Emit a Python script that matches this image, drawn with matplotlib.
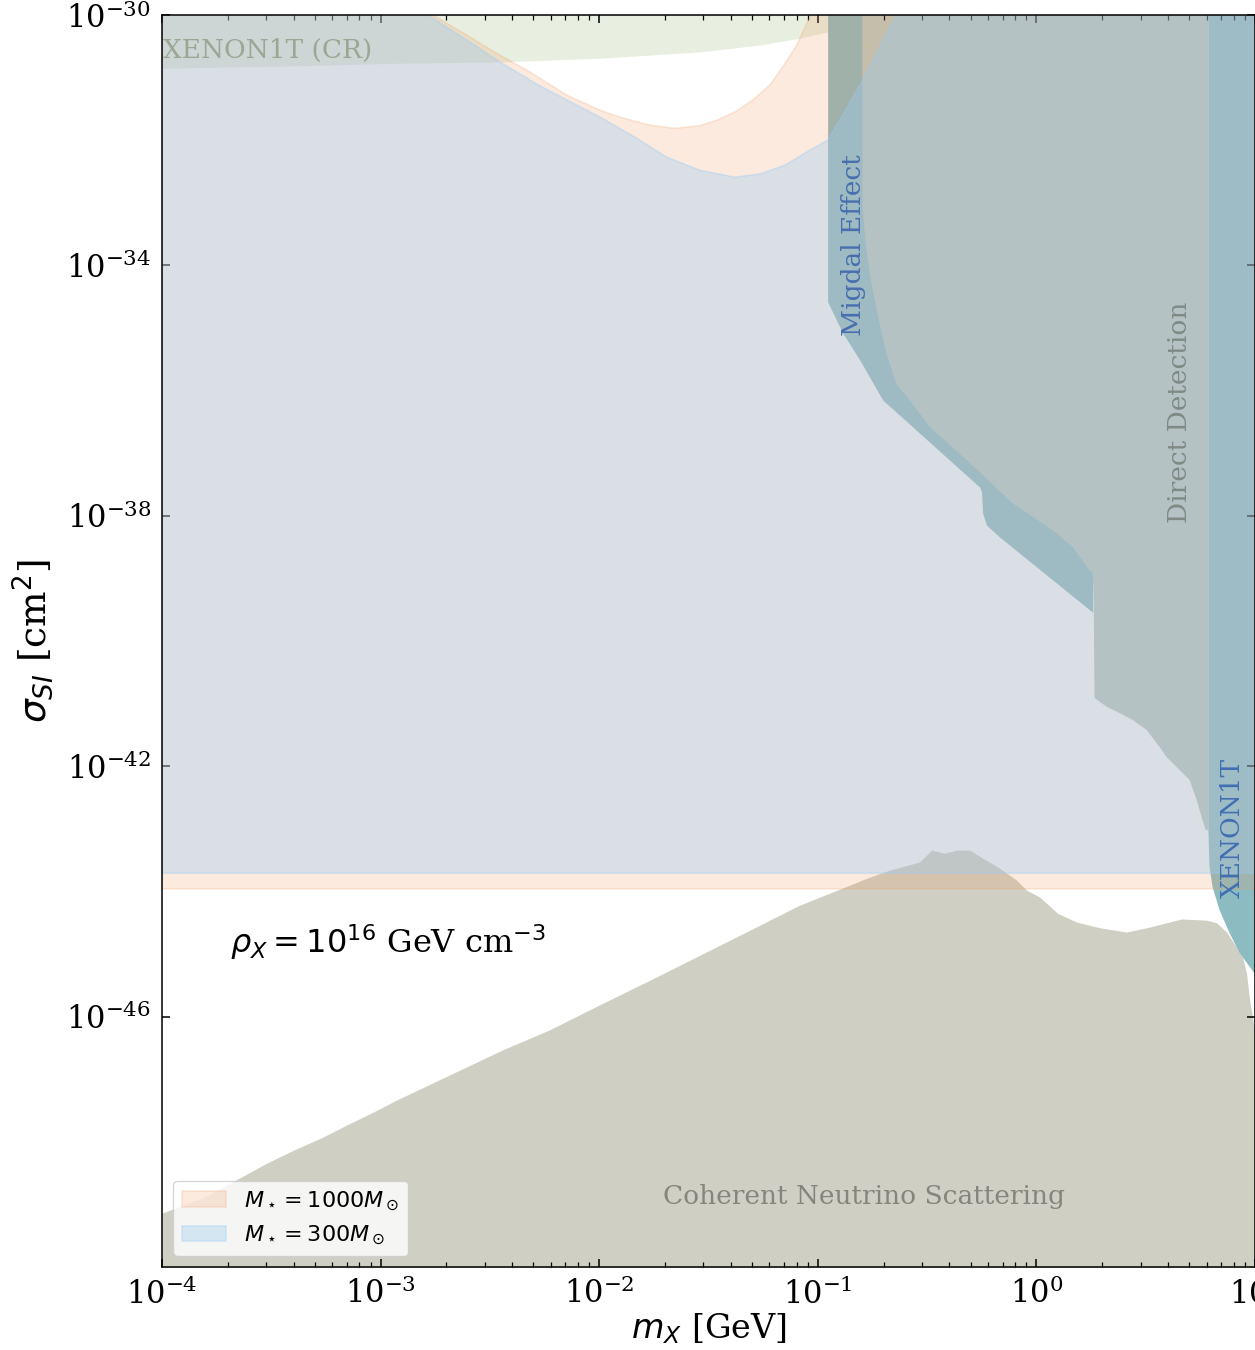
import numpy as np
import matplotlib
matplotlib.use("Agg")
import matplotlib.pyplot as plt
from matplotlib.ticker import FixedLocator, NullLocator, LogLocator

plt.rcParams["font.family"] = "DejaVu Serif"
plt.rcParams["mathtext.fontset"] = "dejavusans"

# ---------------------------------------------------------------
# Data: log10(m_X / GeV) and log10(sigma_SI / cm^2)
# ---------------------------------------------------------------
# Coherent neutrino scattering floor
nu_logm = np.array([-4.000, -3.803, -3.662, -3.520, -3.396, -3.273, -3.154, -3.031,
                    -2.925, -2.683, -2.441, -2.226, -1.997, -1.769, -1.540, -1.311,
                    -1.083, -0.854, -0.776, -0.671, -0.534, -0.479, -0.420, -0.365,
                    -0.305, -0.246, -0.168, -0.091, -0.045, 0.015, 0.097, 0.184,
                    0.289, 0.412, 0.518, 0.664, 0.778, 0.824, 0.870, 0.915,
                    0.943, 0.961, 0.975, 0.989, 1.000])
nu_logs = np.array([-49.14, -48.88, -48.61, -48.34, -48.13, -47.94, -47.73, -47.52,
                    -47.33, -46.93, -46.53, -46.21, -45.81, -45.42, -45.02, -44.62,
                    -44.22, -43.90, -43.79, -43.66, -43.53, -43.34, -43.39, -43.34,
                    -43.34, -43.47, -43.63, -43.82, -43.98, -44.09, -44.35, -44.49,
                    -44.58, -44.65, -44.57, -44.44, -44.46, -44.50, -44.65, -44.89,
                    -45.05, -45.30, -45.73, -46.01, -46.25])

# XENON1T cosmic-ray boosted limit
cr_logm = np.array([-4.000, -3.369, -2.912, -2.455, -1.997, -1.540, -1.266, -1.083,
                    -0.955, -0.854])
cr_logs = np.array([-30.85, -30.81, -30.77, -30.75, -30.69, -30.59, -30.48, -30.37,
                    -30.27, -30.11])

# Migdal effect limit
mig_logm = np.array([-0.955, -0.886, -0.808, -0.703, -0.260, -0.251, -0.246,
                     -0.228, -0.168, 0.257])
mig_logs = np.array([-34.58, -35.08, -35.51, -36.15, -37.54, -37.62, -37.96,
                     -38.15, -38.34, -39.54])

# Direct detection (nuclear recoil) limit
dd_logm = np.array([-0.796, -0.796, -0.781, -0.758, -0.726, -0.685, -0.639, -0.580,
                    -0.488, -0.319, -0.109, 0.074, 0.166, 0.243, 0.257, 0.262,
                    0.266, 0.321, 0.380, 0.440, 0.504, 0.563, 0.595, 0.655,
                    0.701, 0.733, 0.760, 0.774, 0.787])
dd_logs = np.array([-33.04, -33.04, -33.67, -34.23, -34.79, -35.43, -35.91, -36.15,
                    -36.58, -37.11, -37.80, -38.23, -38.50, -38.87, -38.90, -39.30,
                    -40.91, -41.05, -41.15, -41.26, -41.42, -41.69, -41.85, -42.06,
                    -42.22, -42.54, -42.86, -43.02, -43.02])

# XENON1T limit
x1t_logm = np.array([0.787, 0.792, 0.806, 0.838, 0.883, 0.929, 1.000])
x1t_logs = np.array([-43.02, -43.61, -43.93, -44.30, -44.66, -44.98, -45.32])

# Stellar bounds: upper edge (curve) and lower edge (flat) of the excluded band
m1000_logm = np.array([-4.000, -2.761, -2.592, -2.455, -2.317, -2.148, -1.997, -1.906,
                       -1.769, -1.654, -1.540, -1.462, -1.380, -1.298, -1.220, -1.160,
                       -1.096, -1.037, -1.028, 1.000])
m1000_up = np.array([-27.2, -30.00, -30.35, -30.64, -30.91, -31.28, -31.52, -31.63,
                     -31.76, -31.81, -31.77, -31.68, -31.55, -31.36, -31.12, -30.83,
                     -30.48, -30.03, -30.00, -20.0])
m1000_low = -43.96

m300_logm = np.array([-4.000, -2.784, -2.592, -2.455, -2.272, -1.997, -1.837, -1.691,
                      -1.540, -1.380, -1.266, -1.151, -1.037, -0.955, -0.900, -0.795,
                      -0.717, -0.639, 1.000])
m300_up = np.array([-27.3, -30.00, -30.43, -30.75, -31.13, -31.63, -31.95, -32.27,
                    -32.48, -32.59, -32.54, -32.40, -32.16, -32.00, -31.68, -31.04,
                    -30.51, -30.00, -20.0])
m300_low = -43.71

labels = [r"$M_\star = 1000 M_\odot$", r"$M_\star = 300 M_\odot$"]

# ---------------------------------------------------------------
fig = plt.figure(figsize=(12.55, 13.5), dpi=100)
ax = fig.add_axes([162 / 1255, 83 / 1350, 1093 / 1255, 1252 / 1350])
ax.set_xscale("log")
ax.set_yscale("log")

TOP = 1e-20
BOTTOM = 1e-55

# existing constraints
ax.fill_between(10**nu_logm, BOTTOM, 10**nu_logs, color="#cfcfc4", lw=0, zorder=1)
ax.fill_between(10**cr_logm, 10**cr_logs, TOP, color="#e8efe0", lw=0, zorder=1)
ax.fill_between(10**mig_logm, 10**mig_logs, TOP, color="#8db8bd", lw=0, zorder=1.1)
ax.fill_between(10**dd_logm, 10**dd_logs, TOP, color="#bac8be", lw=0, zorder=1.2)
ax.fill_between(10**x1t_logm, 10**x1t_logs, TOP, color="#8cbcc2", lw=0, zorder=1.3)

# stellar capture bounds
h1 = ax.fill_between(10**m1000_logm, 10**m1000_low, 10**m1000_up,
                     color="#f0965a", alpha=0.2, lw=1.2, zorder=2, label=labels[0])
h2 = ax.fill_between(10**m300_logm, 10**m300_low, 10**m300_up,
                     color="#9bcbf5", alpha=0.35, lw=1.2, zorder=2.1, label=labels[1])

# region labels
ax.text(0.146, 10**-33.67, "Migdal Effect", rotation=90, ha="center", va="center",
        fontsize=19, color="#476eae", zorder=3)
ax.text(4.52, 10**-36.34, "Direct Detection", rotation=90, ha="center", va="center",
        fontsize=19, color="#7f8a84", zorder=3)
ax.text(7.85, 10**-42.99, "XENON1T", rotation=90, ha="center", va="center",
        fontsize=19, color="#416eb3", zorder=3)
ax.text(1.01e-4, 10**-30.56, "XENON1T (CR)", ha="left", va="center",
        fontsize=19, color="#9da595", zorder=3)
ax.text(0.162, 10**-48.87, "Coherent Neutrino Scattering", ha="center", va="center",
        fontsize=19, color="#85857e", zorder=3)
ax.text(2.05e-4, 10**-44.81, r"$\rho_X = 10^{16}$ GeV cm$^{-3}$", ha="left",
        va="center", fontsize=23, color="black", zorder=3)

ax.set_xlim(1e-4, 10)
ax.set_ylim(1e-50, 1e-30)
ax.xaxis.set_major_locator(LogLocator(base=10, numticks=20))
ax.xaxis.set_minor_locator(LogLocator(base=10, subs=np.arange(2, 10), numticks=20))
ax.yaxis.set_major_locator(FixedLocator([1e-46, 1e-42, 1e-38, 1e-34, 1e-30]))
ax.yaxis.set_minor_locator(NullLocator())
ax.tick_params(which="both", direction="in", top=True, right=True, labelsize=22)
ax.tick_params(which="major", length=6, width=1.1, pad=8)
ax.tick_params(which="minor", length=3.5, width=0.9)
for sp in ax.spines.values():
    sp.set_linewidth(1.1)
    sp.set_zorder(5)

ax.set_xlabel(r"$m_X$ [GeV]", fontsize=24, labelpad=0)
ax.set_ylabel(r"$\sigma_{SI}$ [cm$^2$]", fontsize=27, labelpad=8)

ax.legend(handles=[h1, h2], loc="lower left", fontsize=16, framealpha=0.8,
          borderaxespad=0.5)

fig.savefig("out.png", dpi=100)
